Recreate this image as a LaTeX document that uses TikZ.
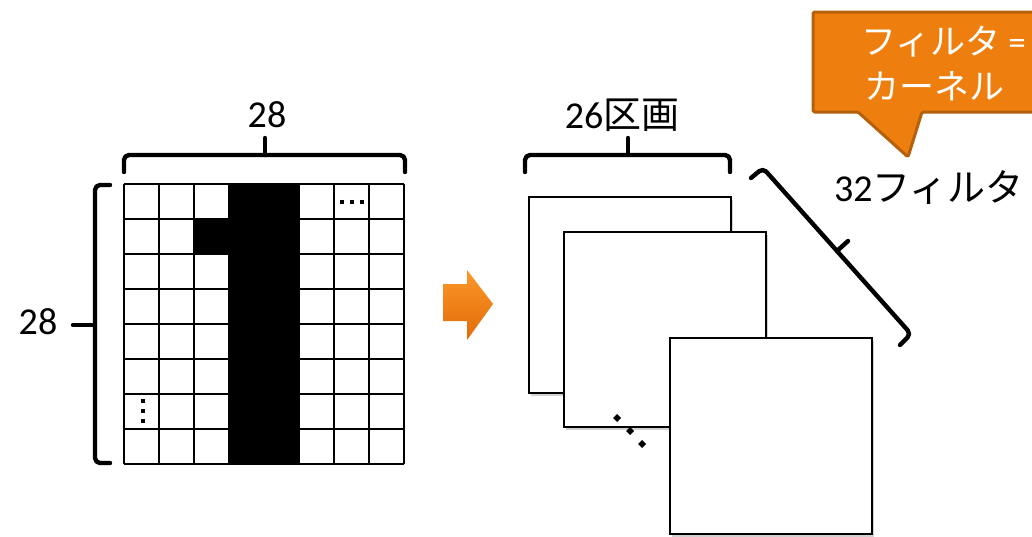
\documentclass[tikz,border=0pt]{standalone}
\usepackage{fontspec}
\setmainfont{Carlito}
\newfontfamily\jp{Noto Sans CJK JP}
\usetikzlibrary{calc}
\definecolor{calloutfill}{RGB}{238,127,14}
\definecolor{calloutedge}{RGB}{181,96,10}
\definecolor{arrowtop}{RGB}{252,152,42}
\definecolor{arrowbot}{RGB}{226,106,8}
\begin{document}
\begin{tikzpicture}[x=1pt,y=-1pt,
  brace/.style={line width=4.4pt, rounded corners=5pt, line cap=round, line join=round},
  bracetip/.style={line width=4.4pt, line cap=round},
  gridline/.style={line width=2.4pt},
  sheet/.style={draw, fill=white, line width=2pt},
  sheetshadow/.style={fill=black, opacity=0.18},
  lbl/.style={inner sep=0pt, font=\fontsize{38}{40}\selectfont},
  callouttext/.style={inner sep=0pt, anchor=west, text=white, font=\fontsize{35}{38}\selectfont}]
\useasboundingbox (0,0) rectangle (1032,536);
\clip (0,0) rectangle (1032,536);

% 8x8 input image showing the digit "1"
\fill (229,184) rectangle (299,464);
\fill (194,219) rectangle (229,254);
\foreach \i in {0,...,8} {
  \draw[gridline] (124+35*\i,184) -- (124+35*\i,464);
  \draw[gridline] (124,184+35*\i) -- (404,184+35*\i);
}
% ellipsis marks inside the grid
\foreach \x in {342,352,362} \fill (\x-1.6,202-1.6) rectangle (\x+1.6,202+1.6);
\foreach \y in {401,411,421} \fill (143-1.6,\y-1.6) rectangle (143+1.6,\y+1.6);

% width brace of the input
\coordinate (wl) at (124,172);
\coordinate (wr) at (405,172);
\coordinate (wm) at (265,155);
\coordinate (wt) at (265,138);
\draw[brace] (wl) -- (124,155) -- (405,155) -- (wr);
\draw[bracetip] (wm) -- (wt);
\node[lbl] (w28) at (267,115) {28};

% height brace of the input
\coordinate (ht) at (110,185);
\coordinate (hb) at (110,463);
\coordinate (hm) at (95,325);
\coordinate (htip) at (73,325);
\draw[brace] (ht) -- (95,185) -- (95,463) -- (hb);
\draw[bracetip] (hm) -- (htip);
\node[lbl] (h28) at (38,322) {28};

% orange block arrow
\shade[top color=arrowtop, bottom color=arrowbot]
  (443,284) -- (467,284) -- (467,270) -- (493,304) -- (467,340) -- (467,321) -- (443,321) -- cycle;

% stack of feature maps
\fill[sheetshadow] (531,200) rectangle (733,396);
\draw[sheet] (529,197) rectangle (731,393);
\fill[sheetshadow] (566,235) rectangle (768,430);
\draw[sheet] (564,232) rectangle (766,427);
\fill[sheetshadow] (672,341) rectangle (874,537);
\draw[sheet] (670,338) rectangle (872,534);
\foreach \px/\py in {617/418,630/431,642/444}
  \fill (\px-4,\py) -- (\px,\py-4) -- (\px+4,\py) -- (\px,\py+4) -- cycle;

% width brace of the feature maps
\coordinate (sl) at (525,172);
\coordinate (sr) at (730,172);
\coordinate (sm) at (628,155);
\coordinate (st) at (628,138);
\draw[brace] (sl) -- (525,155) -- (730,155) -- (sr);
\draw[bracetip] (sm) -- (st);
\node[lbl] (sec) at (622,115) {26{\jp 区画}};

% diagonal brace for the number of filters
\coordinate (da) at (763,168);
\coordinate (db) at (911,334);
\coordinate (dm) at ($(da)!0.5!(db)$);
\coordinate (dt) at ($(dm)+(11,-10)$);
\draw[brace] (751,178) -- (da) -- (db) -- (900,345);
\draw[bracetip] (dm) -- (dt);
\node[lbl] (nf) at (929,188) {32{\jp フィルタ}};

% callout
\filldraw[fill=calloutfill, draw=calloutedge, line width=3pt, line join=round, rounded corners=1.5pt]
  (813,12) -- (1060,12) -- (1060,112) -- (922,112) -- (908,157) -- (858,112) -- (813,112) -- cycle;
\node[callouttext] (c1) at (861,42) {{\jp フィルタ} =};
\node[callouttext] (c2) at (864,86) {\jp カーネル};
\end{tikzpicture}
\end{document}
